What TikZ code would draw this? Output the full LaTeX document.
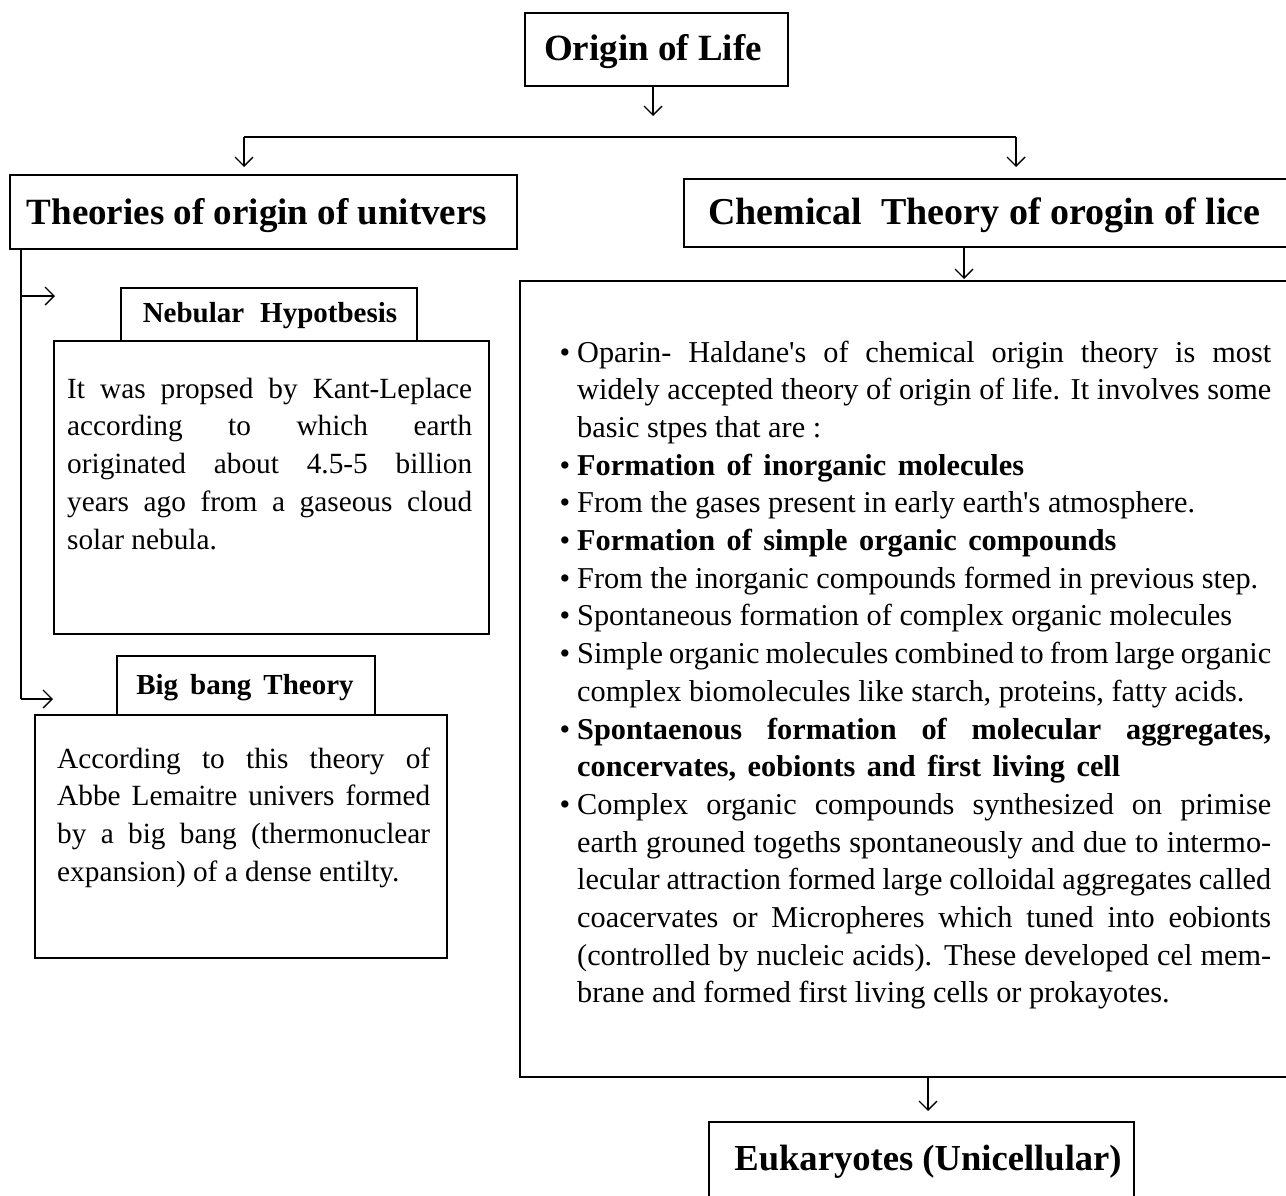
\documentclass[tikz,border=0pt]{standalone}
\usepackage{fontspec}
\setmainfont{Liberation Serif}
\usetikzlibrary{arrows.meta}
\newcommand\jl[2]{\makebox[#1][s]{\spaceskip=0pt\xspaceskip=0pt #2}}
\newcommand\bul{\leavevmode\llap{•\hspace{7pt}}}
\newcommand\natsp{\spaceskip=0pt\xspaceskip=0pt\relax}
\newcommand\bsp{\hspace{11.5pt}}
\begin{document}
\begin{tikzpicture}[x=1pt,y=-1pt,
  box/.style={draw, line width=2.4pt, inner sep=0pt, rectangle, anchor=north west},
  conn/.style={line width=1.4pt, -{Straight Barb[length=9pt,width=18pt]}},
  plainline/.style={line width=1.4pt},
  ttl/.style={inner sep=0pt, anchor=base, font=\fontsize{37}{44}\selectfont\bfseries},
  hd/.style={inner sep=0pt, anchor=base, font=\fontsize{29}{34}\selectfont\bfseries},
  body/.style={inner sep=0pt, anchor=base west, align=left, font=\fontsize{29.3}{37.8}\selectfont},
  rbody/.style={inner sep=0pt, anchor=base west, align=left, font=\fontsize{30.3}{37.7}\selectfont},
]
\useasboundingbox (0,0) rectangle (1286,1196);
\clip (0,0) rectangle (1286,1196);

% boxes
\node[box, minimum width=263pt, minimum height=73pt] (origin) at (524,12) {};
\node[box, minimum width=507pt, minimum height=74pt] (theo) at (9,174) {};
\node[box, minimum width=620pt, minimum height=68pt] (chem) at (683,178) {};
\node[box, minimum width=780pt, minimum height=796pt] (big) at (519,280) {};
\node[box, minimum width=425pt, minimum height=100pt] (euk) at (708,1121) {};
\node[box, minimum width=296pt, minimum height=53pt] (nebh) at (120,287) {};
\node[box, minimum width=435pt, minimum height=293pt] (nebb) at (53,340) {};
\node[box, minimum width=258pt, minimum height=59pt] (bigh) at (116,655) {};
\node[box, minimum width=412pt, minimum height=243pt] (bigb) at (34,714) {};

% titles
\node[ttl] (origint) at (653,61) {Origin of Life};
\node[ttl] (theot) at (257,224) {Theories of origin of unitvers};
\node[ttl, anchor=base west, font=\fontsize{38}{44}\selectfont\bfseries] (chemt) at (708,225) {Chemical\ \ Theory of orogin of lice};
\node[ttl, font=\fontsize{36.6}{44}\selectfont\bfseries] (eukt) at (928,1170) {Eukaryotes (Unicellular)};
\node[hd] (nebht) at (270,322) {Nebular\hspace{16pt}Hypotbesis};
\node[hd] (bight) at (245,694) {Big\hspace{12pt}bang\hspace{12pt}Theory};

% left body texts
\node[body, text width=405pt] (nebt) at (67,398) {\natsp
\jl{405pt}{It was propsed by Kant-Leplace}\\
\jl{405pt}{according to which earth}\\
\jl{405pt}{originated about 4.5-5 billion}\\
\jl{405pt}{years ago from a gaseous cloud}\\
solar nebula.};
\node[body, text width=373pt] (bigt) at (57,768) {\natsp
\jl{373pt}{According to this theory of}\\
\jl{373pt}{Abbe Lemaitre univers formed}\\
\jl{373pt}{by a big bang (thermonuclear}\\
expansion) of a dense entilty.};

% right body text
\node[rbody, text width=694pt] (chemtxt) at (577,362) {\natsp
\bul\jl{694pt}{Oparin- Haldane\textquotesingle s of chemical origin theory is most}\\
\jl{694pt}{widely accepted theory of origin of life. It involves some}\\
basic stpes that are :\\
\bul\textbf{Formation\bsp of\bsp inorganic\bsp molecules}\\
\bul From the gases present in early earth\textquotesingle s atmosphere.\\
\bul\textbf{Formation\bsp of\bsp simple\bsp organic\bsp compounds}\\
\bul From the inorganic compounds formed in previous step.\\
\bul Spontaneous formation of complex organic molecules\\
\bul\jl{694pt}{Simple organic molecules combined to from large organic}\\
complex biomolecules like starch, proteins, fatty acids.\\
\bul\jl{694pt}{\bfseries Spontaenous formation of molecular aggregates,}\\
\textbf{concervates,\bsp eobionts\bsp and\bsp first\bsp living\bsp cell}\\
\bul\jl{694pt}{Complex organic compounds synthesized on primise}\\
\jl{694pt}{earth grouned togeths spontaneously and due to intermo-}\\
\jl{694pt}{lecular attraction formed large colloidal aggregates called}\\
\jl{694pt}{coacervates or Micropheres which tuned into eobionts}\\
\jl{694pt}{(controlled by nucleic acids). These developed cel mem-}\\
brane and formed first living cells or prokayotes.};

% connectors
\coordinate (ax) at (653,116);
\coordinate (hl) at (244,137);
\coordinate (hr) at (1016,137);
\coordinate (al) at (244,167);
\coordinate (ar) at (1016,167);
\coordinate (cx) at (964,279);
\coordinate (ex) at (928,1111);
\coordinate (lx) at (21,248);
\coordinate (lc) at (21,699);
\coordinate (la1) at (55,296);
\coordinate (la2) at (53,699);

\draw[conn] (origin.south -| ax) -- (ax);
\draw[plainline] (hl) -- (hr);
\draw[conn] (hl) -- (al);
\draw[conn] (hr) -- (ar);
\draw[conn] (chem.south -| cx) -- (cx);
\draw[conn] (big.south -| ex) -- (ex);
\draw[plainline] (theo.south -| lx) -- (lc);
\draw[conn] (lc) -- (la2);
\draw[conn] (lx |- la1) -- (la1);
\end{tikzpicture}
\end{document}
